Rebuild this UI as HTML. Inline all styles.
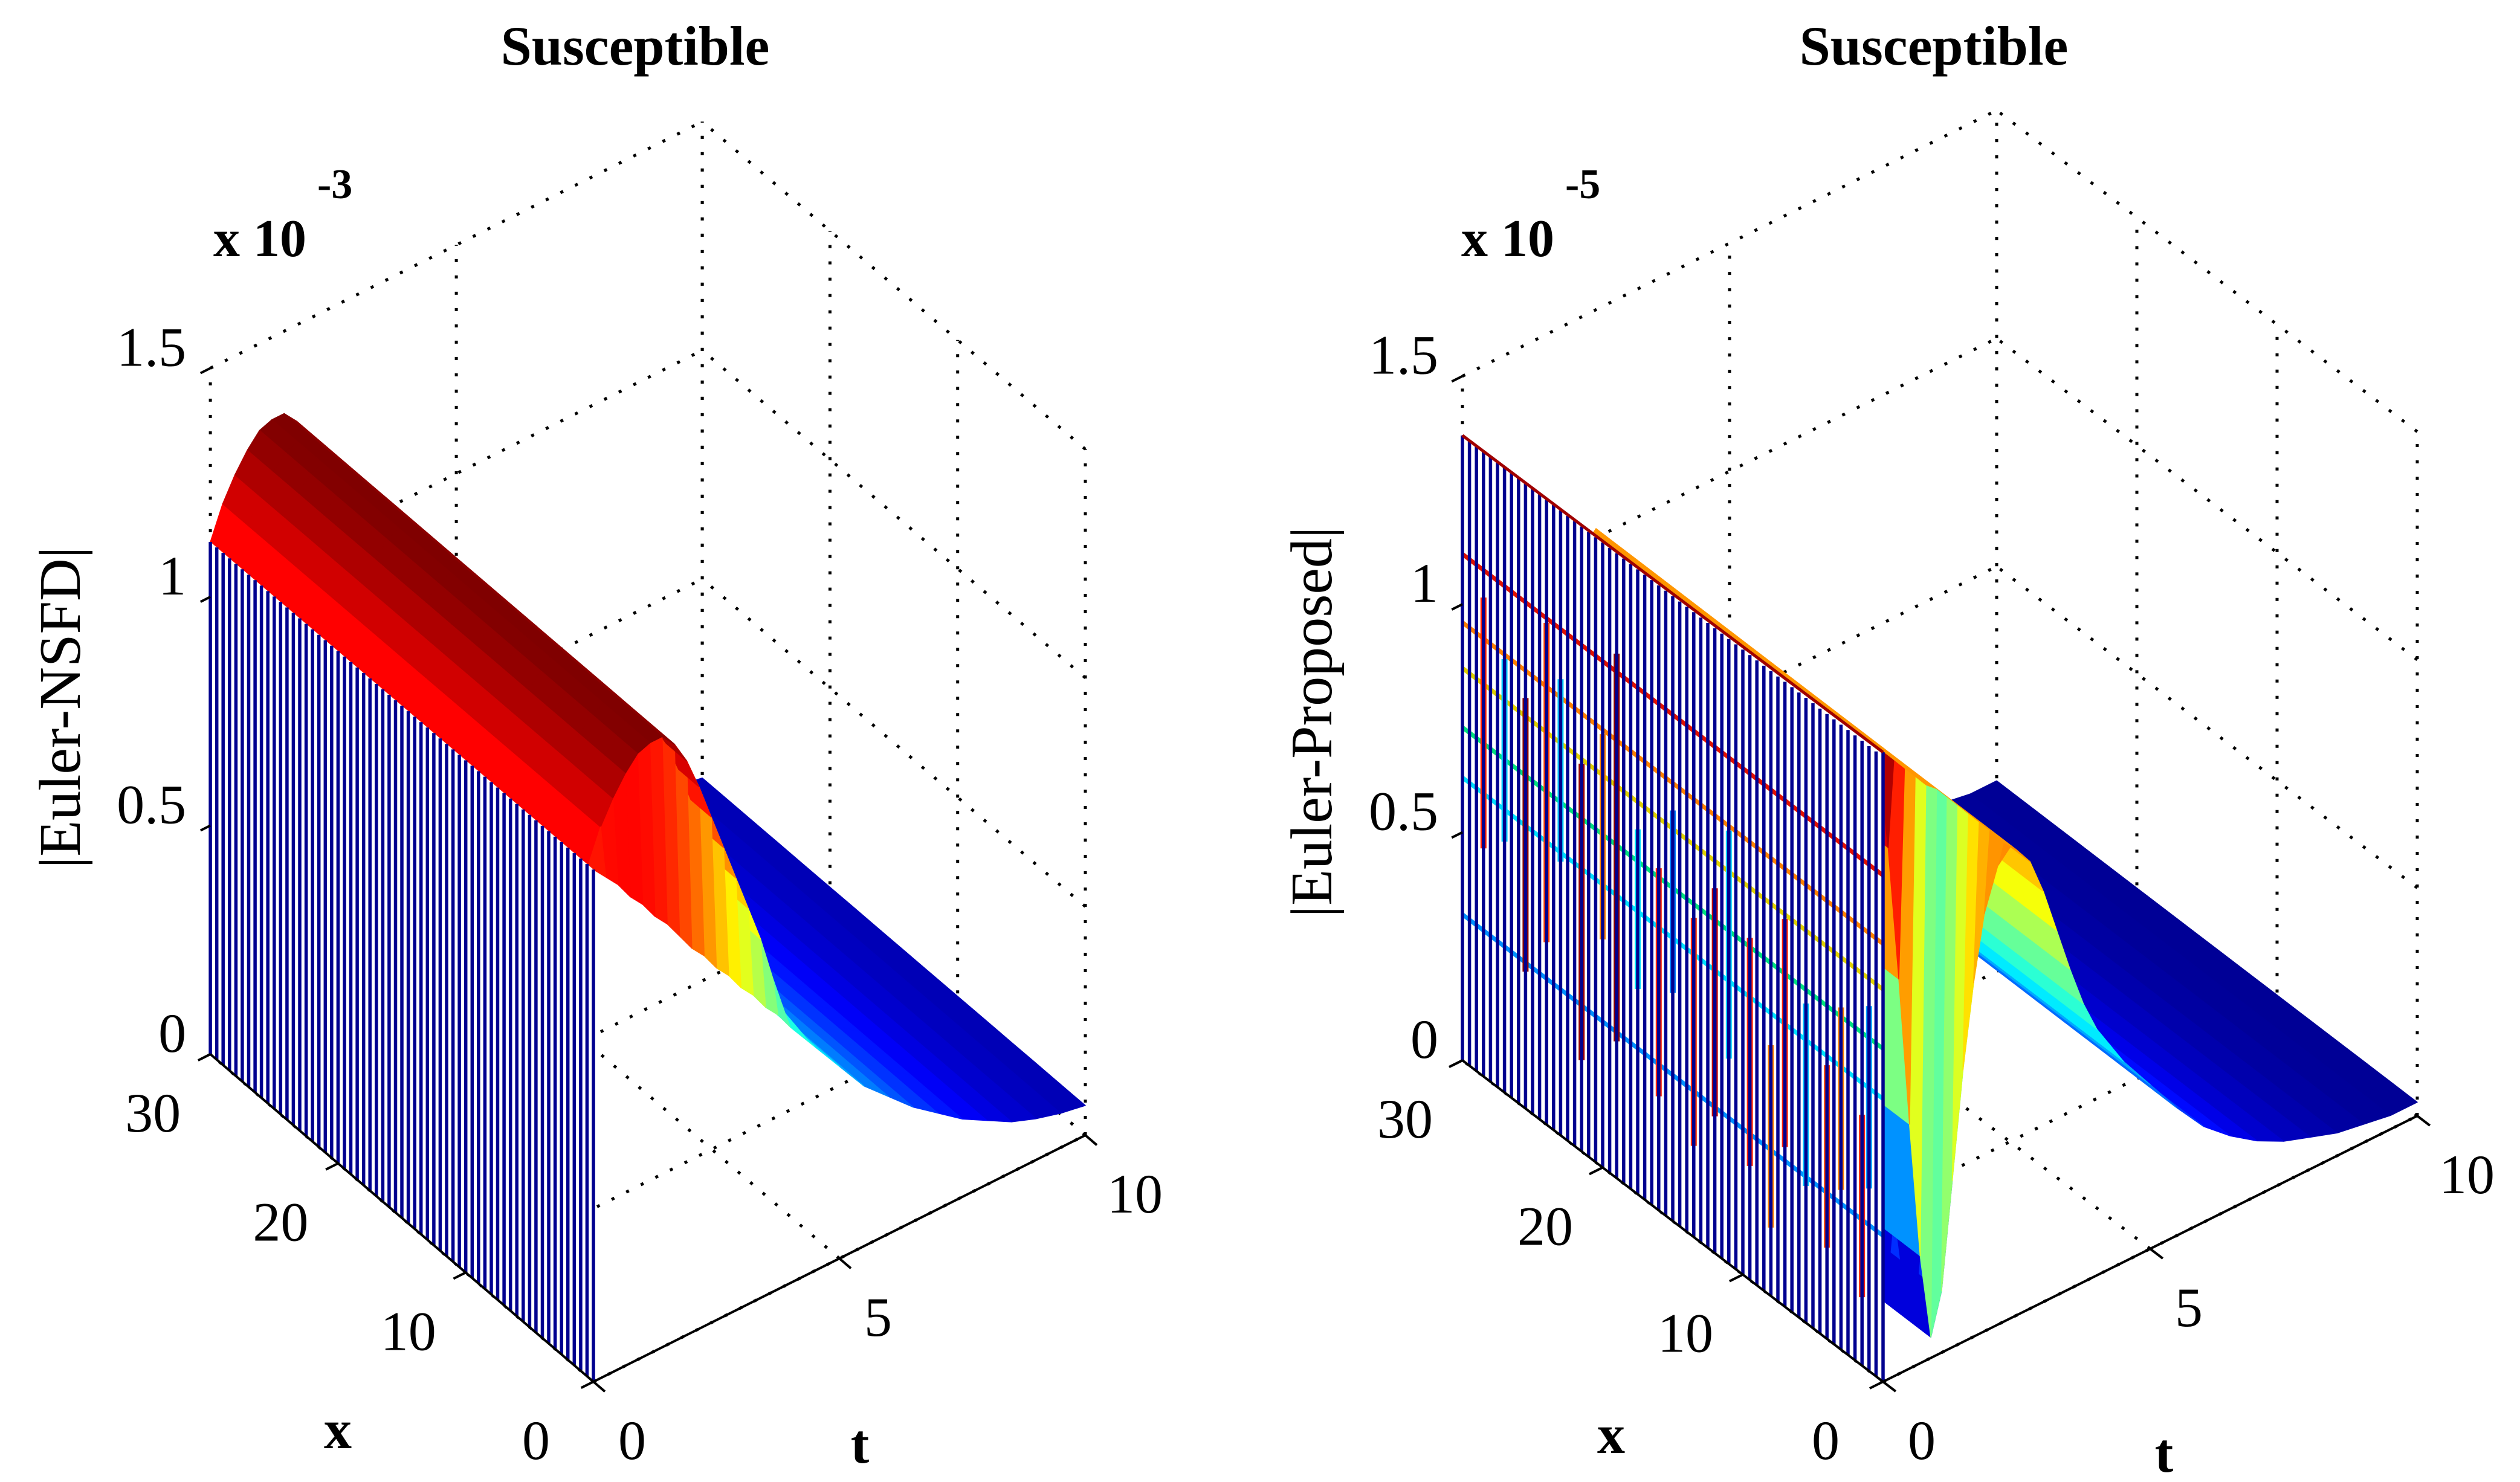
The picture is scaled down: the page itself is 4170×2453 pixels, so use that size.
<!DOCTYPE html>
<html><head><meta charset="utf-8"><style>
html,body{margin:0;padding:0;background:#fff}
svg{display:block}
text{font-family:"Liberation Serif",serif;fill:#000}
</style></head><body>
<svg id="fig" width="4170" height="2453" viewBox="0 0 4170 2453" xmlns="http://www.w3.org/2000/svg"></svg>
<script>
// ---- data ----
const xTicks = [0, 10, 20, 30];
const tTicks = [0, 5, 10];
const zTicks = [0, 0.5, 1, 1.5];
const zTickLabels = ['0', '0.5', '1', '1.5'];
// left chart: |Euler-NSFD| (x1e-3)
const tL = [0,0.25,0.5,0.75,1,1.25,1.5,1.75,2,2.25,2.5,2.75,3,3.25,3.5,3.75,4,4.5,5,5.5,6,6.5,7,7.5,8,8.5,9,9.5,10];
const interiorL = [1.12,1.19,1.24,1.28,1.31,1.32,1.32,1.29,1.24,1.17,1.09,1.01,0.93,0.85,0.77,0.67,0.58,0.49,0.42,0.35,0.30,0.25,0.21,0.17,0.14,0.11,0.09,0.075,0.065];
const boundaryL = [1.12,1.09,1.06,1.02,0.99,0.95,0.92,0.88,0.84,0.81,0.77,0.74,0.70,0.67,0.63,0.60,0.56,0.49,0.42,0.35,0.30,0.25,0.21,0.17,0.14,0.11,0.09,0.075,0.065];
// right chart: |Euler-Proposed| (x1e-5)
const tR = [0,0.2,0.4,0.6,0.8,1.0,1.2,1.4,1.6,1.8,2.0,2.25,2.5,2.75,3,3.25,3.5,3.75,4,4.5,5,5.5,6,6.5,7,7.5,8,8.5,9,9.5,10];
const interiorR = [1.37,1.15,0.85,0.52,0.22,0.03,0.12,0.35,0.58,0.76,0.90,0.99,1.02,0.98,0.90,0.80,0.70,0.61,0.54,0.44,0.36,0.28,0.21,0.16,0.12,0.09,0.07,0.05,0.04,0.03,0.03];
const boundaryR = [1.38,1.35,1.32,1.29,1.26,1.24,1.21,1.18,1.15,1.12,1.09,1.05,1.02,0.98,0.90,0.80,0.70,0.61,0.54,0.44,0.36,0.28,0.21,0.16,0.12,0.09,0.07,0.05,0.04,0.03,0.03];
// right curtain mesh-line levels and coloured bars
const curtainLevelsR = [1.11, 0.96, 0.86, 0.73, 0.62, 0.32];
const curtainLevelColorsR = ['#e01000', '#ff8000', '#e0d000', '#00e080', '#00e0ff', '#0090ff'];
const barX = [28.5,27,25.5,24,23,21.5,20,19,17.5,16,15,13.5,12,11,9.5,8,7,5.5,4,3,1.5,1];
const barLo = [0.5,0.55,0.3,0.4,0.6,0.2,0.5,0.3,0.45,0.25,0.5,0.2,0.3,0.45,0.25,0.15,0.35,0.3,0.2,0.35,0.15,0.4];
const barHi = [1.05,0.95,0.9,1.1,1.0,0.85,0.95,1.15,0.8,0.75,0.9,0.7,0.8,0.95,0.75,0.55,0.85,0.7,0.6,0.75,0.55,0.8];
const barColors = ['#ff2000','#00d0ff','#8b0000','#ff4000','#00c8ff','#a00000','#ff8000','#8b0000','#00e0ff','#ff2000','#0080ff','#ff3000','#c00000','#00d0ff','#ff2000','#ff8000','#ff2000','#00c0ff','#ff4000','#ff8000','#ff2000','#00a0ff'];

const NS = 'http://www.w3.org/2000/svg';
const svg = document.getElementById('fig');
function el(tag, attrs, parent) {
  const e = document.createElementNS(NS, tag);
  for (const k in attrs) e.setAttribute(k, attrs[k]);
  (parent || svg).appendChild(e);
  return e;
}
function jet(v) {
  v = Math.max(0, Math.min(1, v));
  const c = a => Math.round(255 * Math.max(0, Math.min(1, a)));
  return 'rgb(' + c(Math.min(4*v-1.5, -4*v+4.5)) + ',' + c(Math.min(4*v-0.5, -4*v+3.5)) + ',' + c(Math.min(4*v+0.5, -4*v+2.5)) + ')';
}

function drawChart(cfg) {
  const g = el('g', {});
  
  
  const P = (x, t, z) => [cfg.O[0] + x*cfg.xd[0] + t*cfg.td[0], cfg.O[1] + x*cfg.xd[1] + t*cfg.td[1] - z*cfg.zs];
  const line = (a, b, attrs, name) => {
    const l = el('line', Object.assign({x1:a[0].toFixed(1), y1:a[1].toFixed(1), x2:b[0].toFixed(1), y2:b[1].toFixed(1)}, attrs), g);
    
    
    return l;
  };
  const dot = {stroke:'#000', 'stroke-width':5, 'stroke-dasharray':'5 22'};
  tTicks.forEach(t => line(P(30,t,0), P(30,t,1.5), dot, 'grid-line'));
  zTicks.forEach(z => line(P(30,0,z), P(30,10,z), dot, 'grid-line'));
  xTicks.forEach(x => line(P(x,10,0), P(x,10,1.5), dot, 'grid-line'));
  zTicks.forEach(z => line(P(0,10,z), P(30,10,z), dot, 'grid-line'));
  tTicks.forEach(t => line(P(0,t,0), P(30,t,0), dot, 'grid-line'));
  xTicks.forEach(x => line(P(x,0,0), P(x,10,0), dot, 'grid-line'));

  // surface
  const xs = [0, 0.4];
  for (let x = 2; x <= 30; x += 2) xs.push(x);
  const Z = (i, j) => (xs[i] === 0 ? cfg.boundary[j] : cfg.interior[j]);
  const quads = [];
  for (let i = 0; i < xs.length - 1; i++) {
    for (let j = 0; j < cfg.t.length - 1; j++) {
      const z00 = Z(i,j), z01 = Z(i,j+1), z10 = Z(i+1,j), z11 = Z(i+1,j+1);
      const xm = (xs[i]+xs[i+1])/2, tm = (cfg.t[j]+cfg.t[j+1])/2, zm = (z00+z01+z10+z11)/4;
      const depth = 0.93*xm/30 + 0.73*tm/10 - 0.71*zm/1.5;
      quads.push({depth, zm, pts:[P(xs[i],cfg.t[j],z00), P(xs[i],cfg.t[j+1],z01), P(xs[i+1],cfg.t[j+1],z11), P(xs[i+1],cfg.t[j],z10)]});
    }
  }
  quads.sort((a, b) => b.depth - a.depth);
  const sg = el('g', {}, g);
  
  
  quads.forEach(q => {
    const col = jet(q.zm / cfg.zmax);
    const p = el('polygon', {points: q.pts.map(p => p[0].toFixed(1)+','+p[1].toFixed(1)).join(' '), fill: col, stroke: col, 'stroke-width': 1.5, 'stroke-linejoin':'round'}, sg);
    
    
  });

  // curtain at t=0
  const top0 = cfg.interior[0];
  const cg = el('g', {}, g);
  
  
  const cpts = [P(0,0,0), P(30,0,0), P(30,0,top0), P(0,0,cfg.boundary[0])];
  const cf = el('polygon', {points: cpts.map(p => p.join(',')).join(' '), fill:'#fff'}, cg);
  
  
  if (cfg.levels) {
    cfg.levels.forEach((z, k) => {
      const l = el('line', {x1:P(0,0,z)[0], y1:P(0,0,z)[1], x2:P(30,0,z)[0], y2:P(30,0,z)[1], stroke:cfg.levelColors[k], 'stroke-width':7}, cg);
      
      
    });
    barX.forEach((x, k) => {
      const a = P(x,0,barLo[k]), b = P(x,0,barHi[k]);
      const l = el('line', {x1:a[0], y1:a[1], x2:b[0], y2:b[1], stroke:barColors[k], 'stroke-width':10}, cg);
      
      
    });
  }
  for (let x = 0; x <= 30.001; x += 0.5) {
    const zt = x === 0 ? cfg.boundary[0] : top0;
    const a = P(x,0,0), b = P(x,0,zt);
    const l = el('line', {x1:a[0].toFixed(1), y1:a[1].toFixed(1), x2:b[0].toFixed(1), y2:b[1].toFixed(1), stroke:'#00008f', 'stroke-width':5.5}, cg);
    
    
  }
  if (cfg.levels) {
    const a = P(30,0,top0), b = P(0,0,cfg.boundary[0]);
    const l = el('line', {x1:a[0], y1:a[1], x2:b[0], y2:b[1], stroke:'#a00000', 'stroke-width':5}, cg);
    
    
  }

  // axes
  const solid = {stroke:'#000', 'stroke-width':4};
  line(P(0,0,0), P(0,10,0), solid, 't-axis');
  line(P(0,0,0), P(30,0,0), solid, 'x-axis');
  tTicks.forEach(t => line(P(0,t,0), P(-0.9,t,0), solid, 't-tick'));
  xTicks.forEach(x => line(P(x,0,0), P(x,-0.25,0), solid, 'x-tick'));
  zTicks.forEach(z => line(P(30,0,z), P(30,-0.2,z), solid, 'z-tick'));

  const txt = (s, x, y, attrs, name) => {
    const tx = el('text', Object.assign({x:x.toFixed(1), y:y.toFixed(1)}, attrs), g);
    tx.textContent = s;
    
    
    return tx;
  };
  zTicks.forEach((z, k) => {
    const p = P(30,0,z);
    txt(zTickLabels[k], p[0]-40, p[1]-35, {'font-size':92, 'text-anchor':'end', 'dominant-baseline':'central'}, 'z-tick-label');
  });
  xTicks.forEach(x => {
    const p = P(x,0,0);
    txt(String(x), p[0]-95, p[1]+97, {'font-size':92, 'text-anchor':'middle', 'dominant-baseline':'central'}, 'x-tick-label');
  });
  tTicks.forEach(t => {
    const p = P(0,t,0);
    txt(String(t), p[0]+64+(t===10?18:0), p[1]+97, {'font-size':92, 'text-anchor':'middle', 'dominant-baseline':'central'}, 't-tick-label');
  });
  txt('x', cfg.xLabel[0], cfg.xLabel[1], {'font-size':92, 'font-weight':'bold', 'text-anchor':'middle', 'dominant-baseline':'central'}, 'x-axis-title');
  txt('t', cfg.tLabel[0], cfg.tLabel[1], {'font-size':92, 'font-weight':'bold', 'text-anchor':'middle', 'dominant-baseline':'central'}, 't-axis-title');
  txt('Susceptible', cfg.title[0], 107, {'font-size':92, 'font-weight':'bold', 'text-anchor':'middle'}, 'chart-title');
  txt('x 10', cfg.mult[0], 424, {'font-size':88, 'font-weight':'bold'}, 'z-multiplier');
  txt(cfg.exp, cfg.mult[0]+172, 328, {'font-size':70, 'font-weight':'bold'}, 'z-multiplier-exponent');
  txt(cfg.ylabel, 0, 0, {'font-size':98, 'text-anchor':'middle', 'dominant-baseline':'central', transform:'translate(' + cfg.yLab[0] + ',' + cfg.yLab[1] + ') rotate(-90)'}, 'z-axis-title');
}

drawChart({name:'left-chart', O:[982,2287], xd:[-21.13,-18.07], td:[81.4,-40.8], zs:757, zmax:1.32,
  t:tL, interior:interiorL, boundary:boundaryL, xLabel:[559,2366], tLabel:[1423,2390],
  title:[1051], mult:[353], exp:'-3', ylabel:'|Euler-NSFD|', yLab:[100,1171]});
drawChart({name:'right-chart', O:[3116,2287], xd:[-23.2,-17.73], td:[88.4,-44], zs:755, zmax:1.38,
  t:tR, interior:interiorR, boundary:boundaryR, xLabel:[2666,2374], tLabel:[3581,2405],
  title:[3200], mult:[2418], exp:'-5', ylabel:'|Euler-Proposed|', yLab:[2171,1195],
  levels:curtainLevelsR, levelColors:curtainLevelColorsR});
</script>
</body></html>
